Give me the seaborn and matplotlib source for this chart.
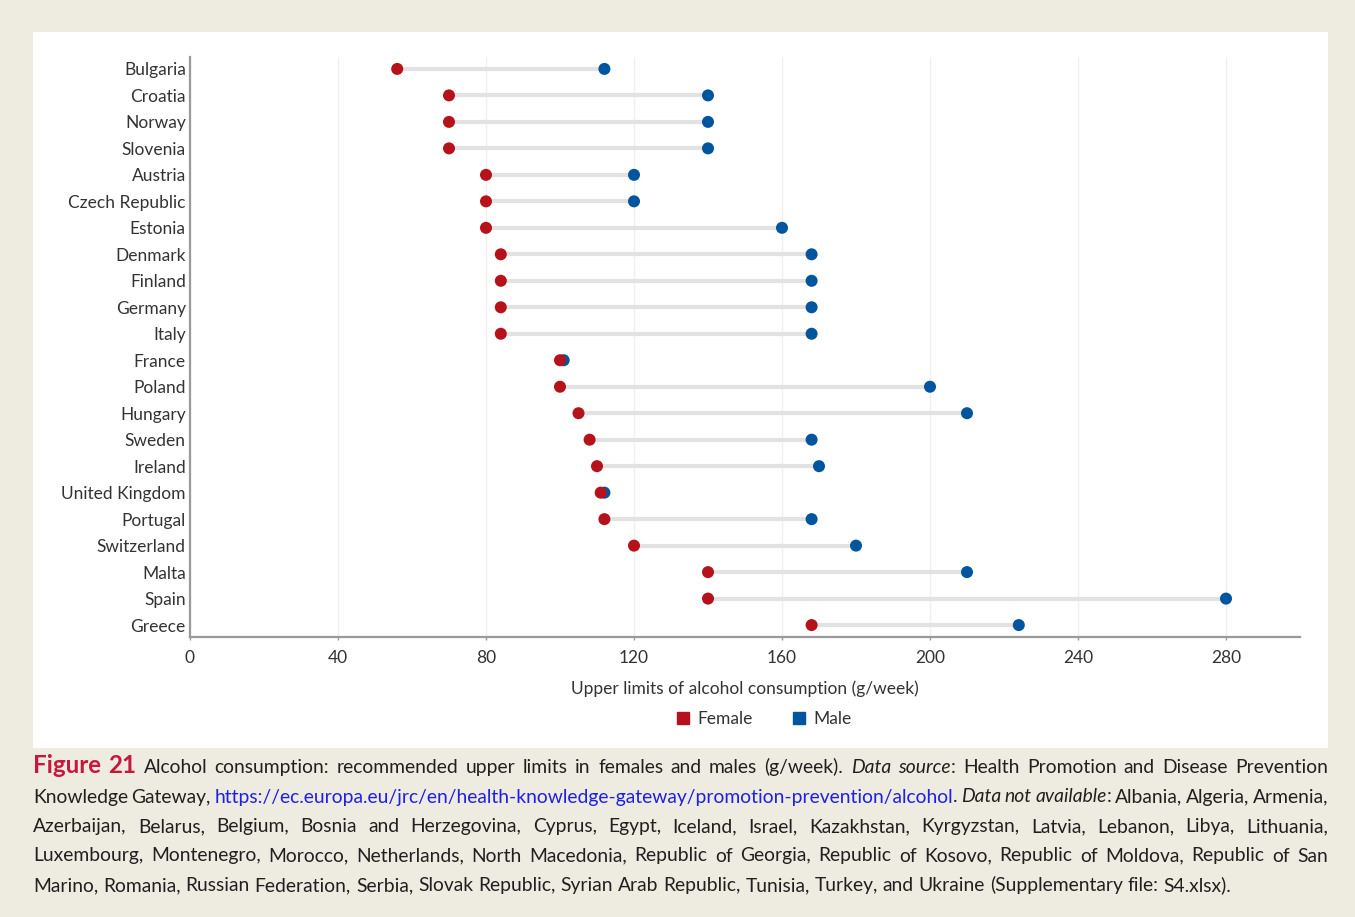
# Recommended upper limits of alcohol consumption, females vs males (dumbbell chart)

import matplotlib.pyplot as plt
import matplotlib.patches as mpatches
from matplotlib.lines import Line2D
import pandas as pd
import seaborn as sns

# Data (g/week)
countries = ["Bulgaria", "Croatia", "Norway", "Slovenia", "Austria", "Czech Republic",
             "Estonia", "Denmark", "Finland", "Germany", "Italy", "France", "Poland",
             "Hungary", "Sweden", "Ireland", "United Kingdom", "Portugal", "Switzerland",
             "Malta", "Spain", "Greece"]
female = [56, 70, 70, 70, 80, 80, 80, 84, 84, 84, 84, 100, 100, 105, 108, 110, 111, 112, 120, 140, 140, 168]
male = [112, 140, 140, 140, 120, 120, 160, 168, 168, 168, 168, 101, 200, 210, 168, 170, 112, 168, 180, 210, 280, 224]
x_ticks = [0, 40, 80, 120, 160, 200, 240, 280]

RED = "#B5121B"
BLUE = "#00559F"
TXT = "#231F20"

W, H = 1355, 917

sns.set_theme(style="white")
plt.rcParams['font.family'] = ['Lato', 'DejaVu Sans']

n = len(countries)
# male rows first so the female dot sits on top where they overlap
df = pd.DataFrame({"Country": countries + countries,
                   "Limit": male + female,
                   "Sex": ["Male"] * n + ["Female"] * n})

fig = plt.figure(figsize=(W / 100, H / 100), dpi=100, facecolor="#EEEBE1")
# white panel behind the chart
fig.patches.append(mpatches.Rectangle((33 / W, 1 - 748 / H), 1295 / W, 716 / H,
                                      transform=fig.transFigure, facecolor="white",
                                      edgecolor="none", zorder=-1))

ax = fig.add_axes([190 / W, 1 - 637 / H, (1300 - 190) / W, (637 - 57) / H])

sns.scatterplot(data=df, x="Limit", y="Country", hue="Sex",
                palette={"Female": RED, "Male": BLUE}, s=75, edgecolor="none",
                legend=False, ax=ax, zorder=3)
ax.hlines(countries, female, male, color="#e2e2e2", lw=3, zorder=1)

ax.set_xlim(0, 300)
ax.set_ylim(n - 1 + 0.45, -0.45)
ax.set_xticks(x_ticks)
ax.xaxis.grid(True, color="#efefef", lw=0.9)
ax.set_axisbelow(True)

for side in ["top", "right"]:
    ax.spines[side].set_visible(False)
for side in ["left", "bottom"]:
    ax.spines[side].set_color("#9a9a9a")
    ax.spines[side].set_linewidth(1.6)

ax.tick_params(axis="both", labelsize=12.5, labelcolor="#333333")
ax.tick_params(axis="x", bottom=True, length=2.5, width=1, color="#9a9a9a", pad=7)
ax.tick_params(axis="y", left=False, length=0, pad=3)
ax.set_ylabel("")
ax.set_xlabel("Upper limits of alcohol consumption (g/week)", fontsize=12.5,
              color="#333333", labelpad=10)

handles = [Line2D([], [], marker="s", ls="none", color=RED, markersize=9, label="Female"),
           Line2D([], [], marker="s", ls="none", color=BLUE, markersize=9, label="Male")]
fig.legend(handles=handles, loc="center", bbox_to_anchor=(763 / W, 1 - 719 / H), ncol=2,
           frameon=False, fontsize=12.5, handletextpad=0.3, columnspacing=2.2,
           handlelength=1.0, labelcolor="#333333")

# ---- caption, justified like the journal layout ----
caption = [
    [("Figure 21", "b"),
     (" Alcohol consumption: recommended upper limits in females and males (g/week). ", "n"),
     ("Data source", "i"), (": Health Promotion and Disease Prevention", "n")],
    [("Knowledge Gateway, ", "n"),
     ("https://ec.europa.eu/jrc/en/health-knowledge-gateway/promotion-prevention/alcohol", "l"),
     (". ", "n"), ("Data not available", "i"), (": Albania, Algeria, Armenia,", "n")],
    [("Azerbaijan, Belarus, Belgium, Bosnia and Herzegovina, Cyprus, Egypt, Iceland, Israel, "
      "Kazakhstan, Kyrgyzstan, Latvia, Lebanon, Libya, Lithuania,", "n")],
    [("Luxembourg, Montenegro, Morocco, Netherlands, North Macedonia, Republic of Georgia, "
      "Republic of Kosovo, Republic of Moldova, Republic of San", "n")],
    [("Marino, Romania, Russian Federation, Serbia, Slovak Republic, Syrian Arab Republic, "
      "Tunisia, Turkey, and Ukraine (Supplementary file: S4.xlsx).", "n")],
]
baselines = [773, 802.5, 832, 861.5, 891]
justify = [True, True, True, True, False]
x0, x1 = 33, 1328


def to_words(segments):
    words = []
    new_word = True
    for text, st in segments:
        for k, p in enumerate(text.split(" ")):
            if k > 0:
                new_word = True
            if p == "":
                continue
            if new_word or not words:
                words.append([(p, st)])
            else:
                words[-1].append((p, st))
            new_word = False
    return words


renderer = fig.canvas.get_renderer()


def styles(fs):
    return {"n": dict(color=TXT, fontsize=fs),
            "i": dict(color=TXT, fontsize=fs, style="italic"),
            "l": dict(color="#1F1FE6", fontsize=fs),
            "b": dict(color="#C8173C", fontsize=fs * 1.25, weight="bold")}


def text_width(s, props):
    t = fig.text(0, 0, s, **props)
    w = t.get_window_extent(renderer).width
    t.remove()
    return w


# pick the font size so the last (unjustified) line has its original length
probe = " ".join(s for s, _ in caption[4])
fs = 14 * (1207 / text_width(probe, styles(14)["n"]))
st = styles(fs)
space = text_width("x x", st["n"]) - text_width("xx", st["n"])

for segs, yb, just in zip(caption, baselines, justify):
    words = to_words(segs)
    wlist = [[text_width(p, st[s]) for p, s in word] for word in words]
    total = sum(sum(w) for w in wlist)
    gap = (x1 - x0 - total) / (len(words) - 1) if just else space
    x = x0
    for word, ws in zip(words, wlist):
        for (p, s), w in zip(word, ws):
            fig.text(x / W, 1 - yb / H, p, ha="left", va="baseline", **st[s])
            x += w
        x += gap

plt.savefig("out.png", dpi=100, facecolor=fig.get_facecolor())
